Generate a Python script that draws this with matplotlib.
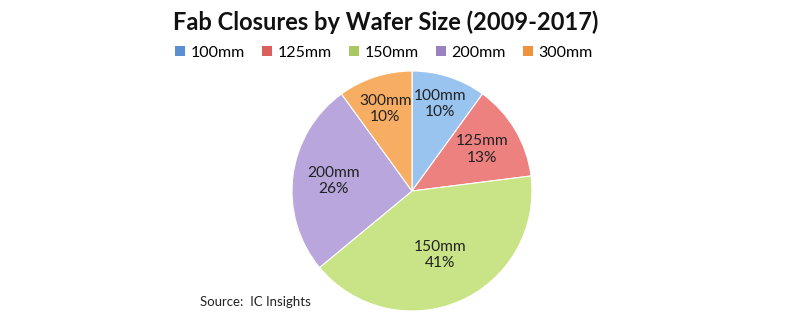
import numpy as np
import matplotlib.pyplot as plt
from matplotlib.patches import Patch

# Fab closures by wafer size, 2009-2017 (share of total, %)
sizes = ["100mm", "125mm", "150mm", "200mm", "300mm"]
shares = [10, 13, 41, 26, 10]
colors = ["#9AC4F0", "#EC8180", "#C9E487", "#B8A6DC", "#F8AE62"]
legend_colors = ["#5B8FD0", "#D9605C", "#A9C862", "#9A82C0", "#EE9240"]
# how far out each label sits, as a fraction of the radius
label_radius = [0.76, 0.68, 0.58, 0.66, 0.72]

plt.rcParams["font.family"] = ["Lato", "DejaVu Sans"]

fig = plt.figure(figsize=(7.99, 3.29), dpi=100)

# pie sits in a square axes, centred a little right of middle
cx, cy, r = 412, 191, 120
W, H = 799, 329
ax = fig.add_axes([(cx - r) / W, (H - cy - r) / H, 2 * r / W, 2 * r / H])

wedges, _ = ax.pie(shares, colors=colors, startangle=90, counterclock=False,
                   wedgeprops=dict(edgecolor="white", linewidth=0.8))

for w, s, v, rf in zip(wedges, sizes, shares, label_radius):
    mid = np.deg2rad((w.theta1 + w.theta2) / 2)
    ax.text(rf * np.cos(mid), rf * np.sin(mid), f"{s}\n{v}%",
            ha="center", va="center", fontsize=11.2, color="#222222",
            linespacing=1.2)

ax.set_xlim(-1, 1)
ax.set_ylim(-1, 1)
ax.set_aspect("equal", adjustable="box")

fig.text(386 / W, 1 - 22 / H, "Fab Closures by Wafer Size (2009-2017)",
         ha="center", va="center", fontsize=17, fontweight="bold", color="#111111")

handles = [Patch(facecolor=c, edgecolor="none") for c in legend_colors]
fig.legend(handles, sizes, loc="center", bbox_to_anchor=(384 / W, 1 - 53 / H),
           ncol=5, frameon=False, fontsize=11.5, handlelength=0.6, handleheight=0.6,
           handletextpad=0.35, columnspacing=1.1)

fig.text(200 / W, 1 - 302 / H, "Source:  IC Insights", ha="left", va="center",
         fontsize=9.5, color="#222222")

fig.savefig("out.png", dpi=100, facecolor="white")
